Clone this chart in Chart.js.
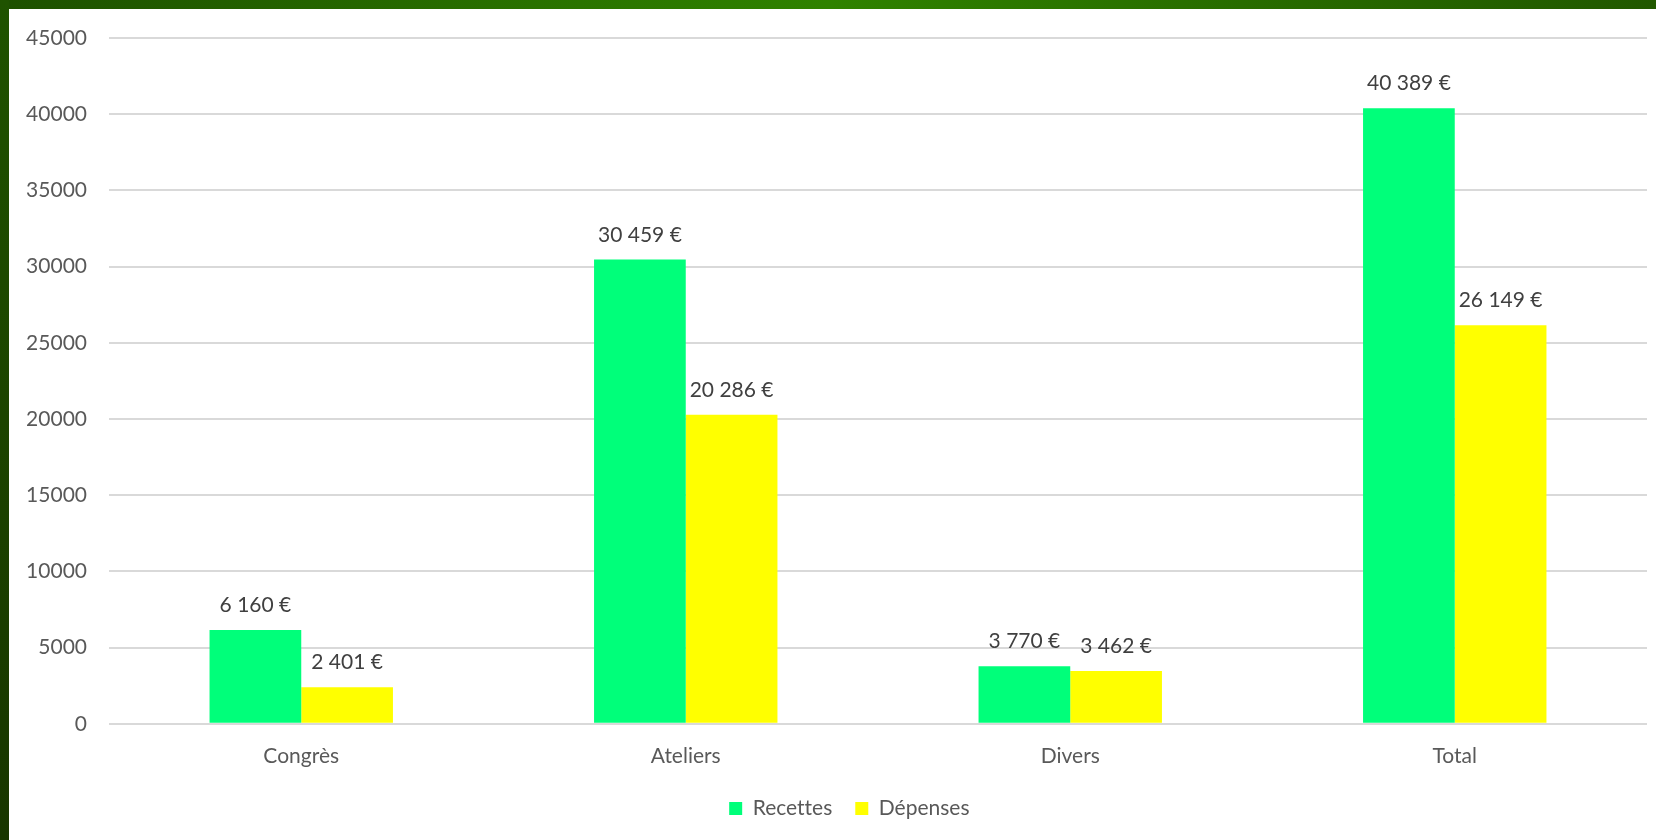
<!DOCTYPE html>
<html>
<head>
<meta charset="utf-8">
<script src="https://cdn.jsdelivr.net/npm/chart.js@4/dist/chart.umd.min.js"></script>
<style>
  html, body { margin: 0; padding: 0; }
  body { width: 1656px; height: 840px; position: relative; overflow: hidden; background: #ffffff; }
  #topbar { position: absolute; left: 0; top: 0; width: 1656px; height: 9px;
    background: linear-gradient(to right, #1d5000 0%, #2a7400 35%, #2f8200 50%, #286c00 75%, #215800 100%); }
  #leftbar { position: absolute; left: 0; top: 0; width: 9px; height: 840px;
    background: linear-gradient(to bottom, #1f5300 0%, #1c4400 50%, #183600 100%); }
  #wrap { position: absolute; left: 9px; top: 9px; width: 1647px; height: 831px; }
</style>
</head>
<body>
<div id="topbar"></div>
<div id="leftbar"></div>
<div id="wrap"><canvas id="c"></canvas></div>
<script>
const categories = ["Congrès", "Ateliers", "Divers", "Total"];
const recettes = [6160, 30459, 3770, 40389];
const depenses = [2401, 20286, 3462, 26149];
const seriesNames = ["Recettes", "Dépenses"];
const yTicks = [0, 5000, 10000, 15000, 20000, 25000, 30000, 35000, 40000, 45000];

const FONT = "Lato, 'Open Sans', sans-serif";

function fmtEuro(v) {
  const s = String(Math.round(v));
  return s.replace(/\B(?=(\d{3})+(?!\d))/g, " ") + " €";
}

const valueLabels = {
  id: "valueLabels",
  afterDatasetsDraw(chart) {
    const ctx = chart.ctx;
    ctx.save();
    ctx.font = "21px " + FONT;
    ctx.fillStyle = "#404040";
    ctx.textAlign = "center";
    ctx.textBaseline = "alphabetic";
    chart.data.datasets.forEach((ds, i) => {
      const meta = chart.getDatasetMeta(i);
      meta.data.forEach((el, j) => {
        ctx.fillText(fmtEuro(ds.data[j]), el.x, el.y - 18);
      });
    });
    ctx.restore();
  }
};

const legendShift = {
  id: "legendShift",
  beforeDraw(chart) {
    try { chart.ctx.textRendering = "optimizeSpeed"; } catch (e) {}
  },
  afterLayout(chart) {
    if (chart.legend) {
      chart.legend.left += 21;
      chart.legend.right += 21;
    }
  }
};

new Chart(document.getElementById("c"), {
  type: "bar",
  data: {
    labels: categories,
    datasets: [
      { label: seriesNames[0], data: recettes, backgroundColor: "#00FF7A", borderWidth: 0 },
      { label: seriesNames[1], data: depenses, backgroundColor: "#FFFF00", borderWidth: 0 }
    ]
  },
  options: {
    responsive: true,
    maintainAspectRatio: false,
    animation: false,
    layout: { padding: { top: 29, right: 9, left: 0, bottom: 11 } },
    datasets: { bar: { categoryPercentage: 0.477, barPercentage: 1.0 } },
    plugins: {
      tooltip: { enabled: false },
      legend: {
        position: "bottom",
        labels: {
          font: { family: FONT, size: 21 },
          color: "#595959",
          boxWidth: 13,
          boxHeight: 13,
          padding: 23
        }
      }
    },
    scales: {
      x: {
        afterFit(axis) { axis.height -= 14; axis.paddingLeft = 0; axis.paddingRight = 0; },
        grid: { display: false, drawTicks: false },
        border: { display: false },
        ticks: { font: { family: FONT, size: 21 }, color: "#595959", padding: 20 }
      },
      y: {
        min: 0, max: 45000,
        afterBuildTicks(axis) { axis.ticks = yTicks.map(v => ({ value: v })); },
        afterFit(axis) { axis.width = 100; axis.paddingTop = 0; axis.paddingBottom = 0; },
        grid: { color: "#d9d9d9", lineWidth: 2, drawTicks: false },
        border: { display: false },
        ticks: { font: { family: FONT, size: 21 }, color: "#595959", padding: 22,
          callback: v => String(v) }
      }
    }
  },
  plugins: [valueLabels, legendShift]
});
</script>
</body>
</html>
